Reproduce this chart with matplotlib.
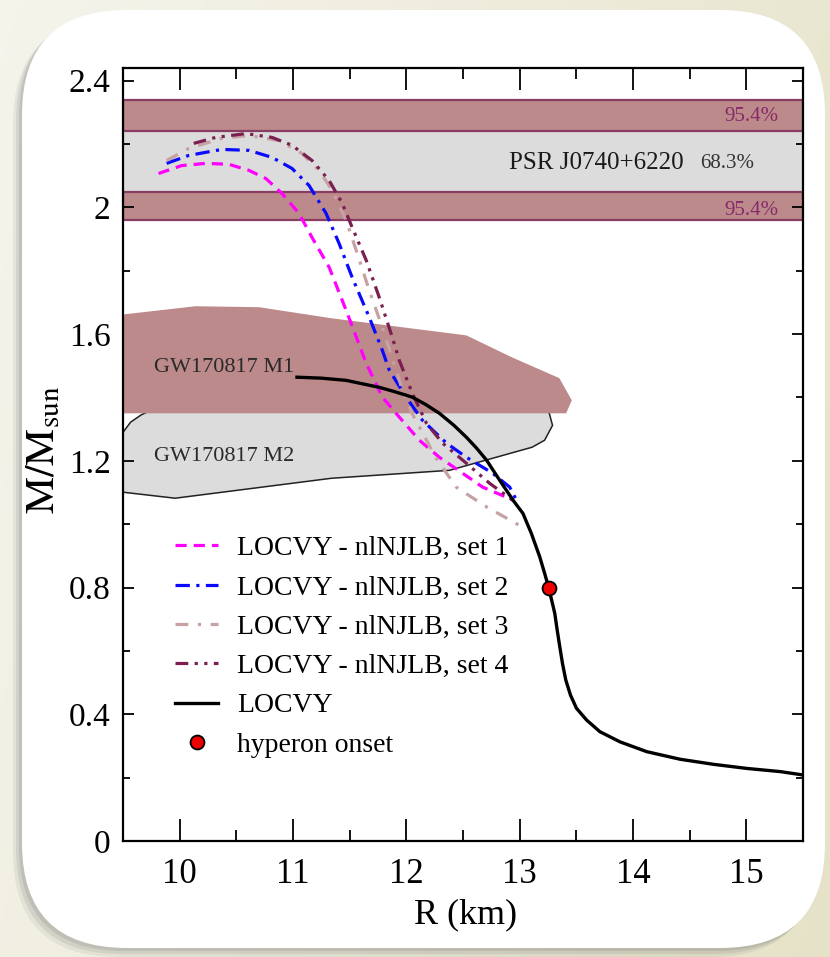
import numpy as np
import matplotlib
matplotlib.use("Agg")
import matplotlib.pyplot as plt
from matplotlib.patches import FancyBboxPatch, Polygon
from matplotlib.ticker import MultipleLocator, FixedLocator, FixedFormatter

plt.rcParams['font.family'] = ['Liberation Serif', 'DejaVu Serif']
plt.rcParams['mathtext.fontset'] = 'stix'

# ---------------- data ----------------
# LOCVY (black)
r_locvy = [11.035, 11.25, 11.469, 11.761, 11.90, 12.053, 12.17, 12.292, 12.42, 12.531,
           12.62, 12.708, 12.823, 12.941, 13.029, 13.103, 13.177, 13.221, 13.257, 13.289,
           13.310, 13.331, 13.354, 13.378, 13.407, 13.448, 13.501, 13.590, 13.708, 13.885,
           14.121, 14.416, 14.711, 15.006, 15.301, 15.507]
m_locvy = [1.464, 1.461, 1.454, 1.432, 1.418, 1.401, 1.378, 1.350, 1.312, 1.274,
           1.240, 1.202, 1.139, 1.076, 1.034, 0.971, 0.897, 0.844, 0.798, 0.750,
           0.718, 0.666, 0.613, 0.560, 0.508, 0.461, 0.419, 0.382, 0.345, 0.313,
           0.282, 0.258, 0.242, 0.229, 0.219, 0.208]

# LOCVY - nlNJLB set 1 (magenta dashed)
r_set1 = [9.814, 10.018, 10.230, 10.434, 10.611, 10.761, 10.903, 11.053, 11.168, 11.319,
          11.469, 11.646, 11.788, 11.938, 12.115, 12.292, 12.496, 12.673, 12.885, 12.94]
m_set1 = [2.107, 2.132, 2.139, 2.136, 2.117, 2.091, 2.044, 1.981, 1.905, 1.811,
          1.675, 1.508, 1.401, 1.338, 1.265, 1.211, 1.161, 1.117, 1.085, 1.076]

# set 2 (blue dash-dot)
r_set2 = [9.885, 10.080, 10.372, 10.611, 10.814, 10.991, 11.142, 11.292, 11.407, 11.522,
          11.673, 11.788, 11.85, 12.0, 12.142, 12.354, 12.531, 12.761, 12.912, 12.98]
m_set2 = [2.139, 2.164, 2.183, 2.180, 2.158, 2.123, 2.069, 1.981, 1.886, 1.779,
          1.653, 1.549, 1.486, 1.400, 1.328, 1.256, 1.211, 1.161, 1.117, 1.07]

# set 3 (light rosy dash-dot)
r_set3 = [9.885, 10.080, 10.372, 10.611, 10.876, 11.080, 11.230, 11.345, 11.469, 11.558,
          11.673, 11.788, 11.87, 11.96, 12.05, 12.26, 12.44, 12.71, 13.03]
m_set3 = [2.148, 2.186, 2.218, 2.227, 2.211, 2.170, 2.117, 2.054, 1.959, 1.864,
          1.738, 1.621, 1.53, 1.43, 1.350, 1.21, 1.117, 1.054, 0.99]

# set 4 (dark purple dash-dot-dot)
r_set4 = [10.124, 10.319, 10.584, 10.814, 10.991, 11.168, 11.319, 11.434, 11.522, 11.646,
          11.761, 11.876, 11.938, 12.053, 12.177, 12.319, 12.531, 12.735, 12.938]
m_set4 = [2.202, 2.221, 2.233, 2.221, 2.196, 2.148, 2.085, 2.013, 1.937, 1.833,
          1.716, 1.590, 1.517, 1.413, 1.319, 1.256, 1.192, 1.129, 1.076]

# hyperon onset
r_onset = [13.257]
m_onset = [0.798]

# PSR J0740+6620 mass bands
psr_68 = [2.05, 2.24]
psr_95 = [1.96, 2.34]

# GW170817 regions
m1_r = [9.5, 10.14, 10.70, 11.34, 12.53, 12.93, 13.35, 13.46, 13.41, 9.5]
m1_m = [1.662, 1.688, 1.685, 1.650, 1.596, 1.527, 1.461, 1.391, 1.350, 1.350]
m2_r = [9.5, 9.567, 9.66, 9.78, 13.25, 13.29, 13.22, 13.11, 12.38, 11.34, 9.96, 9.5]
m2_m = [1.290, 1.322, 1.345, 1.365, 1.365, 1.312, 1.265, 1.243, 1.170, 1.145, 1.082, 1.101]

labels = ['LOCVY - nlNJLB, set 1', 'LOCVY - nlNJLB, set 2', 'LOCVY - nlNJLB, set 3',
          'LOCVY - nlNJLB, set 4', 'LOCVY', 'hyperon onset']
y_ticks = [0, 0.4, 0.8, 1.2, 1.6, 2.0, 2.4]
y_ticklabels = ['0', '0.4', '0.8', '1.2', '1.6', '2', '2.4']
x_ticks = [10, 11, 12, 13, 14, 15]

# ---------------- figure / slide background ----------------
fig = plt.figure(figsize=(8.3, 9.57), dpi=100)
bg = fig.add_axes([0, 0, 1, 1], zorder=-10)
bg.set_xlim(0, 830)
bg.set_ylim(957, 0)
bg.axis('off')
c0 = np.array([0.960, 0.958, 0.925])
c1 = np.array([0.900, 0.888, 0.785])
xx, yy = np.meshgrid(np.linspace(0, 1, 200), np.linspace(0, 1, 200))
t = np.clip(0.75 * xx + 0.25 * yy, 0, 1)[..., None]
img = c0 * (1 - t) + c1 * t
bg.imshow(img, extent=[0, 830, 957, 0], aspect='auto', zorder=0)
for off, a in [(9, 0.10), (6, 0.14), (3, 0.18)]:
    bg.add_patch(FancyBboxPatch((22 - off, 10 + off), 803, 938,
                                boxstyle='round,pad=0,rounding_size=105',
                                fc='#707070', ec='none', alpha=a, zorder=1))
bg.add_patch(FancyBboxPatch((22, 10), 803, 938, boxstyle='round,pad=0,rounding_size=105',
                            fc='white', ec='none', zorder=2))

# ---------------- main axes ----------------
ax = fig.add_axes([123 / 830, 1 - 841 / 957, 680 / 830, 773 / 957])
ax.set_xlim(9.5, 15.5)
ax.set_ylim(0, 2.44)

band_fc = '#bc8a8a'
band_ec = '#8a3d64'
ax.axhspan(psr_95[0], psr_95[1], fc='#dcdcdc', ec='none', zorder=1)
ax.axhspan(psr_68[1], psr_95[1], fc=band_fc, ec=band_ec, lw=1.6, zorder=1.2)
ax.axhspan(psr_95[0], psr_68[0], fc=band_fc, ec=band_ec, lw=1.6, zorder=1.2)

ax.add_patch(Polygon(np.column_stack([m2_r, m2_m]), closed=True, fc='#dcdcdc',
                     ec='#222222', lw=1.1, zorder=1.5))
ax.add_patch(Polygon(np.column_stack([m1_r, m1_m]), closed=True, fc=band_fc,
                     ec='none', zorder=1.6))

ax.text(12.91, 2.139, 'PSR J0740+6220', fontsize=18, ha='left', va='center', color='#1a1a1a', zorder=3)
ax.text(14.59, 2.139, '68.3%', fontsize=15, ha='left', va='center', color='#333333', zorder=3)
ax.text(14.81, 2.287, '95.4%', fontsize=15, ha='left', va='center', color='#862a6a', zorder=3)
ax.text(14.81, 1.99, '95.4%', fontsize=15, ha='left', va='center', color='#862a6a', zorder=3)
ax.text(9.77, 1.495, 'GW170817 M1', fontsize=16, ha='left', va='center', color='#2a2a2a', zorder=3)
ax.text(9.77, 1.215, 'GW170817 M2', fontsize=16, ha='left', va='center', color='#2a2a2a', zorder=3)

lw = 2.3
h1, = ax.plot(r_set1, m_set1, color='#ff00ff', lw=lw, dashes=(3.5, 2.2), zorder=4)
h2, = ax.plot(r_set2, m_set2, color='#0a0aff', lw=lw, dashes=(4.5, 2.0, 1.0, 2.0), zorder=4)
h3, = ax.plot(r_set3, m_set3, color='#c6a2a4', lw=lw, dashes=(4.0, 3.0, 1.0, 3.0), zorder=4)
h4, = ax.plot(r_set4, m_set4, color='#7a1f50', lw=lw, dashes=(4.0, 2.0, 1.0, 2.0, 1.0, 2.0), zorder=4)
h5, = ax.plot(r_locvy, m_locvy, color='black', lw=2.4, zorder=5, solid_joinstyle='round')
h6, = ax.plot(r_onset, m_onset, ls='none', marker='o', ms=10, mfc='#ee0000', mec='black',
              mew=1.3, zorder=6)

ax.legend([h1, h2, h3, h4, h5, h6], labels, loc='upper left', bbox_to_anchor=(0.0765, 0.395),
          frameon=False, fontsize=20, handlelength=1.55, handletextpad=0.68,
          labelspacing=0.5, borderpad=0, borderaxespad=0)

ax.xaxis.set_major_locator(FixedLocator(x_ticks))
ax.xaxis.set_minor_locator(MultipleLocator(0.5))
ax.yaxis.set_major_locator(FixedLocator(y_ticks))
ax.yaxis.set_major_formatter(FixedFormatter(y_ticklabels))
ax.yaxis.set_minor_locator(MultipleLocator(0.2))
ax.tick_params(axis='x', which='major', direction='in', length=16, width=1.3, top=True,
               bottom=True, labelsize=25, pad=12)
ax.tick_params(axis='x', which='minor', direction='in', length=8, width=1.3, top=True, bottom=True)
ax.tick_params(axis='y', which='major', direction='in', length=8, width=1.3, left=True,
               right=True, labelsize=24, pad=9)
ax.tick_params(axis='y', which='minor', direction='in', length=5, width=1.3, left=True, right=True)
for s in ax.spines.values():
    s.set_linewidth(1.6)

fig.text(466 / 830, 1 - 915 / 957, 'R (km)', fontsize=26, ha='center', va='center')
fig.text(44 / 830, 1 - 450 / 957, r'$\mathrm{M/M_{sun}}$', fontsize=30, ha='center',
         va='center', rotation=90)

fig.savefig('out.png', dpi=100)
